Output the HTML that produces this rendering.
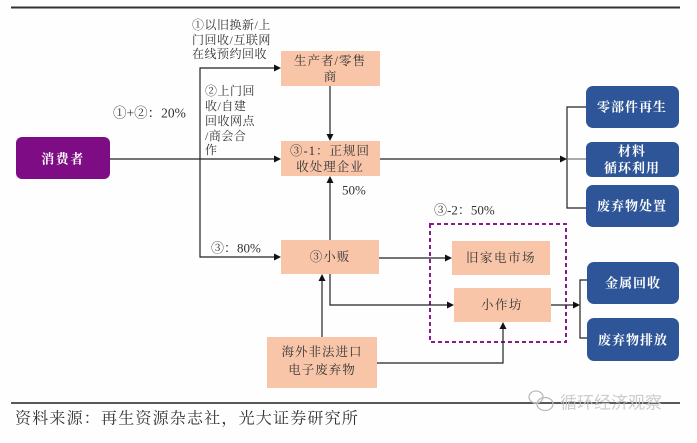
<!DOCTYPE html>
<html>
<head>
<meta charset="utf-8">
<style>
  html,body{margin:0;padding:0;background:#fff;}
  body{width:697px;height:443px;overflow:hidden;}
  svg{display:block;}
  .t{font-family:"Liberation Serif","Noto Serif CJK SC",serif;fill:#333;}
  .w{font-family:"Liberation Serif","Noto Serif CJK SC",serif;fill:#fff;font-weight:bold;}
</style>
</head>
<body>
<svg width="697" height="443" viewBox="0 0 697 443" xmlns="http://www.w3.org/2000/svg">
  <rect x="0" y="0" width="697" height="443" fill="#fefefe"/>
  <!-- top rule -->
  <line x1="11" y1="7.5" x2="680" y2="7.5" stroke="#333" stroke-width="2"/>

  <!-- consumer -->
  <rect x="16" y="137" width="94" height="42" rx="6" fill="#7e0c84"/>
  <text x="63" y="159" class="w" font-size="13" text-anchor="middle" dominant-baseline="central" letter-spacing="1.5">消费者</text>

  <!-- peach boxes -->
  <rect x="281" y="51" width="99" height="35" fill="#f8c5a8"/>
  <text x="330" y="61" class="t" font-size="12.5" text-anchor="middle" dominant-baseline="central" letter-spacing="1">生产者/零售</text>
  <text x="330" y="77" class="t" font-size="12.5" text-anchor="middle" dominant-baseline="central">商</text>

  <rect x="281" y="141" width="99" height="35" fill="#f8c5a8"/>
  <text x="330" y="151" class="t" font-size="12.5" text-anchor="middle" dominant-baseline="central" letter-spacing="1">③-1：正规回</text>
  <text x="330" y="167" class="t" font-size="12.5" text-anchor="middle" dominant-baseline="central" letter-spacing="1">收处理企业</text>

  <rect x="281" y="240" width="98" height="34" fill="#f8c5a8"/>
  <text x="330" y="257" class="t" font-size="12.5" text-anchor="middle" dominant-baseline="central" letter-spacing="1">③小贩</text>

  <rect x="267" y="337" width="110" height="51" fill="#f8c5a8"/>
  <text x="322" y="352" class="t" font-size="12.5" text-anchor="middle" dominant-baseline="central" letter-spacing="1">海外非法进口</text>
  <text x="322" y="370" class="t" font-size="12.5" text-anchor="middle" dominant-baseline="central" letter-spacing="1">电子废弃物</text>

  <rect x="452" y="241" width="98" height="34" fill="#f8c5a8"/>
  <text x="501" y="258" class="t" font-size="12.5" text-anchor="middle" dominant-baseline="central" letter-spacing="1.5">旧家电市场</text>

  <rect x="454" y="288" width="97" height="34" fill="#f8c5a8"/>
  <text x="502" y="305" class="t" font-size="12.5" text-anchor="middle" dominant-baseline="central" letter-spacing="1.5">小作坊</text>

  <!-- dashed box -->
  <rect x="430" y="224" width="136" height="118" fill="none" stroke="#8a1a8c" stroke-width="2" stroke-dasharray="4,3"/>

  <!-- blue boxes -->
  <rect x="586" y="86" width="93" height="42" rx="7" fill="#2e5597"/>
  <text x="632" y="107" class="w" font-size="13" text-anchor="middle" dominant-baseline="central" letter-spacing="1">零部件再生</text>
  <rect x="586" y="142" width="93" height="35" rx="6" fill="#2e5597"/>
  <text x="632" y="151" class="w" font-size="13" text-anchor="middle" dominant-baseline="central" letter-spacing="1">材料</text>
  <text x="632" y="168" class="w" font-size="13" text-anchor="middle" dominant-baseline="central" letter-spacing="1">循环利用</text>
  <rect x="586" y="185" width="93" height="42" rx="7" fill="#2e5597"/>
  <text x="632" y="206" class="w" font-size="13" text-anchor="middle" dominant-baseline="central" letter-spacing="1">废弃物处置</text>

  <rect x="587" y="262" width="92" height="42" rx="7" fill="#2e5597"/>
  <text x="633" y="283" class="w" font-size="13" text-anchor="middle" dominant-baseline="central" letter-spacing="1">金属回收</text>
  <rect x="587" y="318" width="92" height="43" rx="7" fill="#2e5597"/>
  <text x="633" y="340" class="w" font-size="13" text-anchor="middle" dominant-baseline="central" letter-spacing="1">废弃物排放</text>

  <!-- connectors -->
  <g stroke="#222" stroke-width="1.2" fill="none">
    <line x1="110" y1="159" x2="276" y2="159"/>
    <polyline points="276,68 200,68 200,257 276,257"/>
    <line x1="330" y1="86" x2="330" y2="136"/>
    <line x1="330" y1="240" x2="330" y2="181"/>
    <line x1="379" y1="258" x2="447" y2="258"/>
    <polyline points="330,274 330,305 449,305"/>
    <line x1="322" y1="337" x2="322" y2="279"/>
    <polyline points="377,363 503,363 503,327"/>
    <line x1="380" y1="159" x2="562" y2="159"/>
    <polyline points="586,107 567,107 567,208 586,208"/>
    <line x1="567" y1="159" x2="586" y2="159" stroke="#777"/>
    <line x1="551" y1="305" x2="575" y2="305"/>
    <polyline points="587,280 580,280 580,338 587,338"/>
  </g>
  <g fill="#111">
    <polygon points="281,159 274,155.5 274,162.5"/>
    <polygon points="281,68 274,64.5 274,71.5"/>
    <polygon points="281,257 274,253.5 274,260.5"/>
    <polygon points="330,141 326.5,134 333.5,134"/>
    <polygon points="330,176 326.5,183 333.5,183"/>
    <polygon points="452,258 445,254.5 445,261.5"/>
    <polygon points="454,305 447,301.5 447,308.5"/>
    <polygon points="322,274 318.5,281 325.5,281"/>
    <polygon points="503,322 499.5,329 506.5,329"/>
    <polygon points="567,159 560,155.5 560,162.5"/>
    <polygon points="580,305 573,301.5 573,308.5"/>
  </g>

  <!-- labels -->
  <g class="t" font-size="12">
    <text x="192" y="25" dominant-baseline="central" letter-spacing="0.5">①以旧换新/上</text>
    <text x="192" y="40" dominant-baseline="central" letter-spacing="0.5">门回收/互联网</text>
    <text x="192" y="54" dominant-baseline="central" letter-spacing="0.5">在线预约回收</text>

    <text x="205" y="91" dominant-baseline="central" letter-spacing="0.5">②上门回</text>
    <text x="205" y="106" dominant-baseline="central" letter-spacing="0.5">收/自建</text>
    <text x="205" y="121" dominant-baseline="central" letter-spacing="0.5">回收网点</text>
    <text x="205" y="136" dominant-baseline="central" letter-spacing="0.5">/商会合</text>
    <text x="205" y="150" dominant-baseline="central">作</text>
  </g>
  <text x="113" y="113" class="t" font-size="13.5" dominant-baseline="central">①+②：20%</text>
  <text x="211" y="248" class="t" font-size="13" dominant-baseline="central">③：80%</text>
  <text x="342" y="190" class="t" font-size="13" dominant-baseline="central">50%</text>
  <text x="434" y="210" class="t" font-size="13" dominant-baseline="central">③-2：50%</text>

  <!-- bottom rule and source -->
  <line x1="11" y1="403" x2="680" y2="403" stroke="#222" stroke-width="1.6"/>
  <text x="15" y="419" class="t" font-size="16" dominant-baseline="central" letter-spacing="1.2" style="fill:#333">资料来源：再生资源杂志社，光大证券研究所</text>

  <!-- watermark -->
  <g fill="none" stroke="#bbb" stroke-width="1.3">
    <ellipse cx="536" cy="397" rx="7" ry="6"/>
    <ellipse cx="545" cy="404" rx="8" ry="6.5"/>
  </g>
  <text x="560" y="401" font-family="'Noto Sans CJK SC',sans-serif" font-size="17" fill="#c4c4c4" dominant-baseline="central" opacity="0.85">循环经济观察</text>
</svg>
</body>
</html>
